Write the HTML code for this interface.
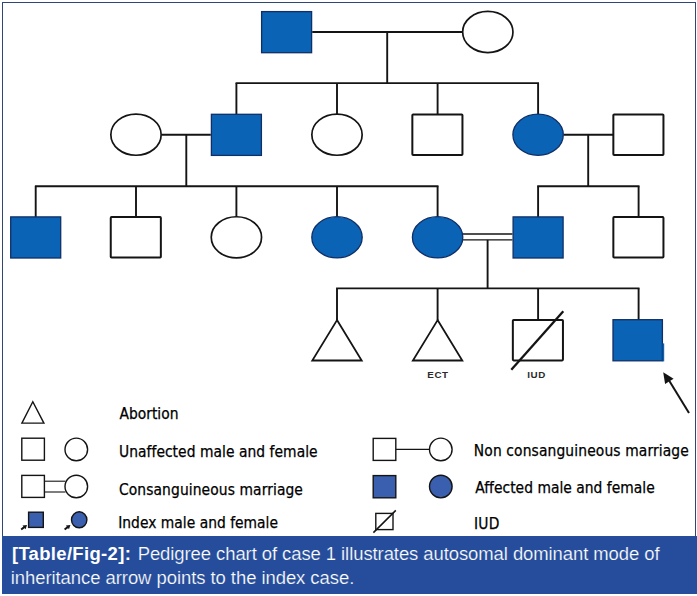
<!DOCTYPE html>
<html lang="en">
<head>
<meta charset="utf-8">
<title>Pedigree chart of case 1</title>
<style>
html,body{margin:0;padding:0;background:#fff;}
body{width:697px;height:596px;position:relative;overflow:hidden;font-family:"Liberation Sans",sans-serif;}
#frame{position:absolute;left:2px;top:2px;width:694px;height:535px;border:1px solid #2e4873;border-bottom:none;box-sizing:border-box;}
svg{position:absolute;left:0;top:0;}
.lg{font-family:"DejaVu Sans",sans-serif;font-stretch:condensed;font-size:15.4px;fill:#000;stroke:#000;stroke-width:0.25px;}
#cap{position:absolute;left:2px;top:536px;width:695px;height:58px;background:#254d9c;color:#fff;font-size:18.47px;line-height:23px;box-sizing:border-box;padding:7.2px 0 0 9.9px;white-space:nowrap;}
.cp{font-family:"Liberation Sans",sans-serif;font-size:18.47px;fill:#fff;}
.thin{stroke:#254d9c;stroke-width:0.22px;}
</style>
</head>
<body>
<div id="frame"></div>
<svg width="697" height="596" viewBox="0 0 697 596">
<line x1="312.2" y1="32.0" x2="462.2" y2="32.0" stroke="#141414" stroke-width="1.9"/>
<line x1="387.2" y1="32.0" x2="387.2" y2="83.1" stroke="#141414" stroke-width="1.9"/>
<line x1="235.6" y1="83.1" x2="539.0" y2="83.1" stroke="#141414" stroke-width="1.9"/>
<line x1="236.4" y1="83.1" x2="236.4" y2="114.7" stroke="#141414" stroke-width="1.9"/>
<line x1="337.0" y1="83.1" x2="337.0" y2="114.7" stroke="#141414" stroke-width="1.9"/>
<line x1="437.6" y1="83.1" x2="437.6" y2="114.7" stroke="#141414" stroke-width="1.9"/>
<line x1="538.1" y1="83.1" x2="538.1" y2="114.7" stroke="#141414" stroke-width="1.9"/>
<line x1="161.6" y1="134.7" x2="210.8" y2="134.7" stroke="#141414" stroke-width="1.9"/>
<line x1="186.3" y1="134.7" x2="186.3" y2="186.3" stroke="#141414" stroke-width="1.9"/>
<line x1="34.9" y1="186.3" x2="438.5" y2="186.3" stroke="#141414" stroke-width="1.9"/>
<line x1="35.7" y1="186.3" x2="35.7" y2="217.3" stroke="#141414" stroke-width="1.9"/>
<line x1="136.0" y1="186.3" x2="136.0" y2="217.3" stroke="#141414" stroke-width="1.9"/>
<line x1="236.4" y1="186.3" x2="236.4" y2="217.3" stroke="#141414" stroke-width="1.9"/>
<line x1="337.0" y1="186.3" x2="337.0" y2="217.3" stroke="#141414" stroke-width="1.9"/>
<line x1="437.6" y1="186.3" x2="437.6" y2="217.3" stroke="#141414" stroke-width="1.9"/>
<line x1="563.7" y1="134.7" x2="613.0" y2="134.7" stroke="#141414" stroke-width="1.9"/>
<line x1="588.2" y1="134.7" x2="588.2" y2="186.3" stroke="#141414" stroke-width="1.9"/>
<line x1="537.2" y1="186.3" x2="639.5" y2="186.3" stroke="#141414" stroke-width="1.9"/>
<line x1="538.1" y1="186.3" x2="538.1" y2="217.3" stroke="#141414" stroke-width="1.9"/>
<line x1="638.6" y1="186.3" x2="638.6" y2="217.3" stroke="#141414" stroke-width="1.9"/>
<line x1="462.2" y1="234.0" x2="512.5" y2="234.0" stroke="#141414" stroke-width="1.4"/>
<line x1="462.2" y1="239.9" x2="512.5" y2="239.9" stroke="#141414" stroke-width="1.4"/>
<line x1="487.6" y1="239.9" x2="487.6" y2="288.4" stroke="#141414" stroke-width="1.9"/>
<line x1="336.1" y1="288.4" x2="639.5" y2="288.4" stroke="#141414" stroke-width="1.9"/>
<line x1="337.0" y1="288.4" x2="337.0" y2="320.1" stroke="#141414" stroke-width="1.9"/>
<line x1="437.6" y1="288.4" x2="437.6" y2="320.1" stroke="#141414" stroke-width="1.9"/>
<line x1="538.1" y1="288.4" x2="538.1" y2="320.1" stroke="#141414" stroke-width="1.9"/>
<line x1="638.6" y1="288.4" x2="638.6" y2="320.1" stroke="#141414" stroke-width="1.9"/>
<rect x="261.60" y="11.60" width="50.00" height="41.10" fill="#0b63b5" stroke="#0f2f66" stroke-width="1.3"/>
<ellipse cx="487.80" cy="32.00" rx="25.15" ry="20.55" fill="#fff" stroke="#141414" stroke-width="1.7"/>
<ellipse cx="136.00" cy="134.70" rx="25.15" ry="20.55" fill="#fff" stroke="#141414" stroke-width="1.7"/>
<rect x="211.40" y="114.30" width="50.00" height="41.10" fill="#0b63b5" stroke="#0f2f66" stroke-width="1.3"/>
<ellipse cx="337.00" cy="134.70" rx="25.15" ry="20.55" fill="#fff" stroke="#141414" stroke-width="1.7"/>
<rect x="412.35" y="114.50" width="50.10" height="40.50" rx="0.8" fill="#fff" stroke="#141414" stroke-width="2"/>
<ellipse cx="538.10" cy="134.70" rx="25.20" ry="20.60" fill="#0b63b5" stroke="#0f2f66" stroke-width="1.3"/>
<rect x="613.35" y="114.50" width="50.10" height="40.50" rx="0.8" fill="#fff" stroke="#141414" stroke-width="2"/>
<rect x="10.70" y="216.90" width="50.00" height="41.10" fill="#0b63b5" stroke="#0f2f66" stroke-width="1.3"/>
<rect x="110.75" y="217.10" width="50.10" height="40.50" rx="0.8" fill="#fff" stroke="#141414" stroke-width="2"/>
<ellipse cx="236.40" cy="237.30" rx="25.15" ry="20.55" fill="#fff" stroke="#141414" stroke-width="1.7"/>
<ellipse cx="337.00" cy="237.30" rx="25.20" ry="20.60" fill="#0b63b5" stroke="#0f2f66" stroke-width="1.3"/>
<ellipse cx="437.60" cy="237.30" rx="25.20" ry="20.60" fill="#0b63b5" stroke="#0f2f66" stroke-width="1.3"/>
<rect x="513.10" y="216.90" width="50.00" height="41.10" fill="#0b63b5" stroke="#0f2f66" stroke-width="1.3"/>
<rect x="613.35" y="217.10" width="50.10" height="40.50" rx="0.8" fill="#fff" stroke="#141414" stroke-width="2"/>
<polygon points="337.0,320.1 312.3,360.5 361.7,360.5" fill="#fff" stroke="#141414" stroke-width="1.8" stroke-linejoin="miter"/>
<polygon points="437.6,320.1 412.9,360.5 462.3,360.5" fill="#fff" stroke="#141414" stroke-width="1.8" stroke-linejoin="miter"/>
<rect x="512.85" y="319.90" width="50.10" height="40.50" rx="0.8" fill="#fff" stroke="#141414" stroke-width="2"/>
<rect x="613.00" y="319.70" width="49.40" height="41.10" fill="#0b63b5" stroke="#0f2f66" stroke-width="1.3"/>
<line x1="511.3" y1="369.7" x2="563.3" y2="311.2" stroke="#141414" stroke-width="2.3"/>
<rect x="662.6" y="343.4" width="1.6" height="18" fill="#0b63b5"/>
<line x1="689.0" y1="412.9" x2="669.4" y2="381.0" stroke="#141414" stroke-width="2.0"/>
<polygon points="663.2,372.2 673.6,378.7 665.1,383.9" fill="#141414"/>
<text x="427.3" y="378.4" font-family="Liberation Sans, sans-serif" font-weight="bold" font-size="9.8" fill="#2a2a2a" letter-spacing="0.55">ECT</text>
<text x="527.3" y="378.4" font-family="Liberation Sans, sans-serif" font-weight="bold" font-size="9.8" fill="#2a2a2a" letter-spacing="0.55">IUD</text>
<polygon points="32.8,401.8 21.9,423.1 43.9,423.1" fill="#fff" stroke="#141414" stroke-width="1.4"/>
<rect x="21.8" y="438.2" width="22.599999999999998" height="22.0" fill="#fff" stroke="#141414" stroke-width="1.4"/>
<circle cx="76.3" cy="449.4" r="11.3" fill="#fff" stroke="#141414" stroke-width="1.4"/>
<line x1="44.4" y1="481.2" x2="65.5" y2="481.2" stroke="#141414" stroke-width="1.1"/>
<line x1="44.4" y1="492.0" x2="65.5" y2="492.0" stroke="#141414" stroke-width="1.1"/>
<rect x="21.8" y="475.4" width="22.599999999999998" height="22.0" fill="#fff" stroke="#141414" stroke-width="1.4"/>
<circle cx="76.3" cy="486.5" r="11.3" fill="#fff" stroke="#141414" stroke-width="1.4"/>
<rect x="28.6" y="512.2" width="14.699999999999996" height="15.199999999999932" fill="#3a5fae" stroke="#141414" stroke-width="1.4"/>
<ellipse cx="79.2" cy="519.8" rx="7.7" ry="8.0" fill="#3a5fae" stroke="#141414" stroke-width="1.4"/>
<line x1="21.2" y1="529.5" x2="24.599999999999998" y2="526.9" stroke="#141414" stroke-width="2"/>
<polygon points="27.0,524.9 22.5,525.6 25.6,529.3" fill="#141414"/>
<line x1="64.6" y1="529.5" x2="68.0" y2="526.9" stroke="#141414" stroke-width="2"/>
<polygon points="70.39999999999999,524.9 65.89999999999999,525.6 69.0,529.3" fill="#141414"/>
<line x1="396.0" y1="449.4" x2="429.5" y2="449.4" stroke="#141414" stroke-width="1.1"/>
<rect x="373.2" y="438.4" width="22.600000000000023" height="22.0" fill="#fff" stroke="#141414" stroke-width="1.4"/>
<circle cx="440.8" cy="449.4" r="11.3" fill="#fff" stroke="#141414" stroke-width="1.4"/>
<rect x="373.2" y="475.6" width="22.600000000000023" height="22.19999999999999" fill="#3a5fae" stroke="#141414" stroke-width="1.4"/>
<circle cx="440.8" cy="486.6" r="11.3" fill="#3a5fae" stroke="#141414" stroke-width="1.4"/>
<rect x="375.8" y="513.4" width="17.19999999999999" height="16.200000000000045" fill="#fff" stroke="#141414" stroke-width="1.4"/>
<line x1="373.4" y1="532.6" x2="395.8" y2="510.4" stroke="#141414" stroke-width="1.5"/>
<text class="lg" x="119.5" y="418.5" letter-spacing="0">Abortion</text>
<text class="lg" x="119.0" y="457.0" letter-spacing="0.05">Unaffected male and female</text>
<text class="lg" x="119.0" y="495.3" letter-spacing="0.1">Consanguineous marriage</text>
<text class="lg" x="118.2" y="528.3" letter-spacing="0.02">Index male and female</text>
<text class="lg" x="473.8" y="456.0" letter-spacing="0.13">Non consanguineous marriage</text>
<text class="lg" x="475.2" y="492.8" letter-spacing="0.03">Affected male and female</text>
<text class="lg" x="474.0" y="529.0" letter-spacing="0.25">IUD</text>
</svg>
<div id="cap"></div>
<svg width="697" height="596" viewBox="0 0 697 596">
<text class="cp" x="11.9" y="560.3" font-weight="bold" letter-spacing="0.34">[Table/Fig-2]:</text>
<text class="cp thin" x="137.7" y="560.3" letter-spacing="-0.07">Pedigree chart of case 1 illustrates autosomal dominant mode of</text>
<text class="cp thin" x="10.7" y="583.5" letter-spacing="-0.05">inheritance arrow points to the index case.</text>
</svg>
</body>
</html>
